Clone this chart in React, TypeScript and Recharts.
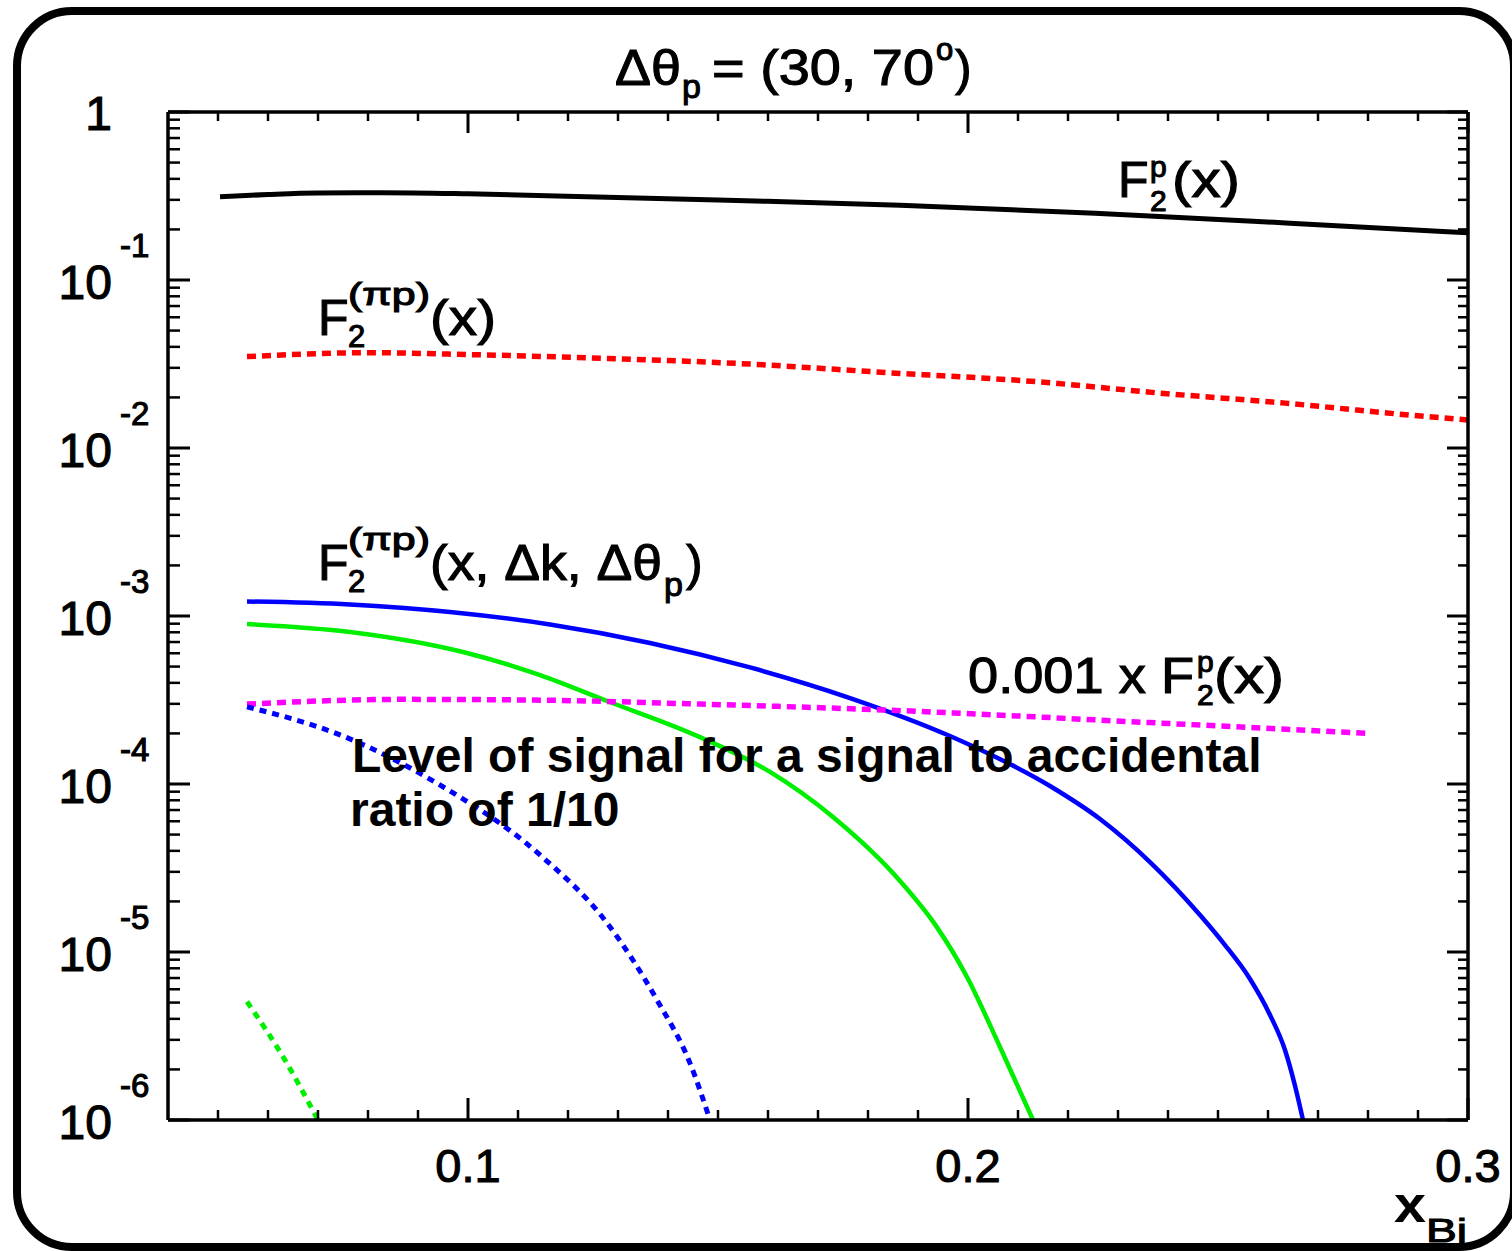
import { LineChart, Line, XAxis, YAxis } from 'recharts';

// x_Bj values / F2 values
const protonX = [0.0504, 0.06, 0.07, 0.083, 0.1, 0.1258, 0.15, 0.1864, 0.2254, 0.2644, 0.3];
const protonY = [0.313, 0.323, 0.33, 0.331, 0.326, 0.312, 0.299, 0.279, 0.25, 0.218, 0.191];

const pionX = [0.0558, 0.0804, 0.1, 0.1268, 0.1536, 0.1838, 0.2138, 0.2386, 0.2634, 0.2884, 0.3];
const pionY = [0.035, 0.0369, 0.036, 0.0342, 0.0319, 0.0281, 0.0248, 0.0212, 0.0185, 0.0157, 0.0147];

const blueX = [0.0558, 0.0764, 0.0964, 0.1164, 0.1364, 0.1564, 0.1764, 0.1964, 0.2164, 0.2264, 0.2364,
  0.2464, 0.2514, 0.2564, 0.2604, 0.2634, 0.2654, 0.267];
const blueY = [1.22e-3, 1.171e-3, 1.056e-3, 8.9e-4, 6.91e-4, 4.94e-4, 3.25e-4, 1.93e-4, 9.73e-5, 6.19e-5, 3.43e-5,
  1.66e-5, 1.1e-5, 6.91e-6, 4.22e-6, 2.61e-6, 1.6e-6, 1e-6];

const greenX = [0.0558, 0.0764, 0.0998, 0.1144, 0.1278, 0.1464, 0.1604, 0.173, 0.1864, 0.1934, 0.1998, 0.2064, 0.213];
const greenY = [8.96e-4, 8.03e-4, 6.02e-4, 4.45e-4, 3.12e-4, 1.9e-4, 1.18e-4, 6.36e-5, 2.65e-5, 1.46e-5, 7.1e-6, 2.72e-6, 1e-6];

const scaledX = [0.0558, 0.0864, 0.113, 0.1464, 0.183, 0.2364, 0.28];
const scaledY = [2.99e-4, 3.19e-4, 3.16e-4, 2.99e-4, 2.76e-4, 2.32e-4, 2.0e-4];

const blueDashX = [0.0558, 0.0744, 0.0938, 0.1144, 0.1278, 0.1378, 0.1444, 0.1484];
const blueDashY = [2.88e-4, 1.96e-4, 1.01e-4, 3.78e-5, 1.49e-5, 5.18e-6, 2.18e-6, 1e-6];

const greenDashX = [0.0558, 0.063, 0.07];
const greenDashY = [5.06e-6, 2.38e-6, 1e-6];

const xMajor = [0.1, 0.2, 0.3];
const xMinor = [0.05, 0.06, 0.07, 0.08, 0.09, 0.11, 0.12, 0.13, 0.14, 0.15, 0.16, 0.17, 0.18, 0.19,
  0.21, 0.22, 0.23, 0.24, 0.25, 0.26, 0.27, 0.28, 0.29];
const yMajor = [1e-6, 1e-5, 1e-4, 1e-3, 1e-2, 1e-1, 1];
const decades = [1e-6, 1e-5, 1e-4, 1e-3, 1e-2, 1e-1];
const mantissas = [2, 3, 4, 5, 6, 7, 8, 9];
const yMinor = decades.flatMap((d) => mantissas.map((m) => m * d));

const zip = (xs: number[], ys: number[]) => xs.map((x, i) => ({ x, y: ys[i] }));

const FONT = '"Liberation Sans", Arial, Helvetica, sans-serif';
const W = 1512;
const H = 1251;
const THICK = { stroke: '#000', strokeWidth: 1.1 };

function NoTick() {
  return null;
}

function XTick({ x, payload }: any) {
  return (
    <text x={x} y={1182} textAnchor="middle" fontFamily={FONT} fontSize={47} fill="#000" {...THICK}>
      {payload.value}
    </text>
  );
}

function YTick({ y, payload }: any) {
  const exp = Math.round(Math.log10(payload.value));
  if (exp === 0) {
    return (
      <text x={112} y={y + 18} textAnchor="end" fontFamily={FONT} fontSize={48} fill="#000" {...THICK}>1</text>
    );
  }
  return (
    <g fontFamily={FONT} fill="#000" {...THICK}>
      <text x={112} y={y + 19} textAnchor="end" fontSize={48}>10</text>
      <text x={120} y={y - 23} fontSize={33}>{exp}</text>
    </g>
  );
}

type Piece = { x: number; y: number; s: number; t: string; b?: boolean; w?: number };

const annotations: Piece[] = [
  // title
  { x: 615, y: 85, s: 50, t: 'Δθ', w: 66 },
  { x: 682, y: 98, s: 34, t: 'p' },
  { x: 712, y: 85, s: 50, t: '= (30, 70', w: 222 },
  { x: 936, y: 60, s: 31, t: 'o' },
  { x: 955, y: 85, s: 50, t: ')' },
  // F2p(x)
  { x: 1118, y: 197, s: 50, t: 'F' },
  { x: 1150, y: 177, s: 30, t: 'p' },
  { x: 1150, y: 211, s: 30, t: '2' },
  { x: 1172, y: 197, s: 50, t: '(x)', w: 68 },
  // F2(pi p)(x)
  { x: 318, y: 335, s: 50, t: 'F' },
  { x: 348, y: 305, s: 31, t: '(πp)', w: 82 },
  { x: 348, y: 347, s: 31, t: '2' },
  { x: 430, y: 335, s: 50, t: '(x)', w: 66 },
  // F2(pi p)(x, dk, dtheta)
  { x: 318, y: 580, s: 50, t: 'F' },
  { x: 348, y: 550, s: 31, t: '(πp)', w: 82 },
  { x: 348, y: 592, s: 31, t: '2' },
  { x: 430, y: 580, s: 50, t: '(x, Δk, Δθ', w: 232 },
  { x: 664, y: 596, s: 34, t: 'p' },
  { x: 686, y: 580, s: 50, t: ')' },
  // 0.001 x F2p(x)
  { x: 968, y: 693, s: 50, t: '0.001 x F', w: 226 },
  { x: 1197, y: 672, s: 30, t: 'p' },
  { x: 1197, y: 705, s: 30, t: '2' },
  { x: 1214, y: 693, s: 50, t: '(x)', w: 70 },
  // note
  { x: 352, y: 772, s: 48, t: 'Level of signal for a signal to accidental', b: true },
  { x: 350, y: 826, s: 48, t: 'ratio of 1/10', b: true },
  // axis title
  { x: 1394, y: 1222, s: 52, t: 'x', b: true, w: 32 },
  { x: 1426, y: 1242, s: 34, t: 'Bj', w: 41 },
];

export default function App() {
  const tickLine = { stroke: '#000', strokeWidth: 3 };
  const minorLine = { stroke: '#000', strokeWidth: 2.5 };
  const frame = { stroke: '#000', strokeWidth: 3.5 };
  const common = { type: 'number' as const, dataKey: 'x', domain: [0.04, 0.3], allowDataOverflow: true, interval: 0 as const, mirror: true };
  const logCommon = { type: 'number' as const, scale: 'log' as const, domain: [1e-6, 1], allowDataOverflow: true, interval: 0 as const, mirror: true };

  return (
    <div style={{ position: 'absolute', left: 0, top: 0, width: W, height: H, background: '#fff', overflow: 'hidden' }}>
      <LineChart width={W} height={H} margin={{ top: 112, right: 44, bottom: 131, left: 168 }}>
        <XAxis xAxisId="x" {...common} ticks={xMajor} height={1} tickSize={22}
          tickLine={tickLine} axisLine={frame} tick={<XTick />} />
        <XAxis xAxisId="xm" {...common} ticks={xMinor} height={1} tickSize={9}
          tickLine={minorLine} axisLine={false} tick={<NoTick />} />
        <XAxis xAxisId="xt" orientation="top" {...common} ticks={xMajor} height={1} tickSize={21}
          tickLine={tickLine} axisLine={frame} tick={<NoTick />} />
        <XAxis xAxisId="xtm" orientation="top" {...common} ticks={xMinor} height={1} tickSize={8}
          tickLine={minorLine} axisLine={false} tick={<NoTick />} />

        <YAxis yAxisId="y" {...logCommon} ticks={yMajor} width={1} tickSize={22}
          tickLine={tickLine} axisLine={frame} tick={<YTick />} />
        <YAxis yAxisId="ym" {...logCommon} ticks={yMinor} width={1} tickSize={11}
          tickLine={minorLine} axisLine={false} tick={<NoTick />} />
        <YAxis yAxisId="yr" orientation="right" {...logCommon} ticks={yMajor} width={1} tickSize={21}
          tickLine={tickLine} axisLine={frame} tick={<NoTick />} />
        <YAxis yAxisId="yrm" orientation="right" {...logCommon} ticks={yMinor} width={1} tickSize={9}
          tickLine={minorLine} axisLine={false} tick={<NoTick />} />

        <Line xAxisId="x" yAxisId="y" data={zip(protonX, protonY)} dataKey="y" type="monotone"
          stroke="#000" strokeWidth={5} dot={false} isAnimationActive={false} />
        <Line xAxisId="x" yAxisId="y" data={zip(pionX, pionY)} dataKey="y" type="monotone"
          stroke="#ff0000" strokeWidth={5.5} strokeDasharray="9 6" dot={false} isAnimationActive={false} />
        <Line xAxisId="x" yAxisId="y" data={zip(blueX, blueY)} dataKey="y" type="monotone"
          stroke="#0000ff" strokeWidth={4.5} dot={false} isAnimationActive={false} />
        <Line xAxisId="x" yAxisId="y" data={zip(greenX, greenY)} dataKey="y" type="monotone"
          stroke="#00ee00" strokeWidth={4.5} dot={false} isAnimationActive={false} />
        <Line xAxisId="x" yAxisId="y" data={zip(scaledX, scaledY)} dataKey="y" type="monotone"
          stroke="#ff00ff" strokeWidth={5.5} strokeDasharray="9 6" dot={false} isAnimationActive={false} />
        <Line xAxisId="x" yAxisId="y" data={zip(blueDashX, blueDashY)} dataKey="y" type="monotone"
          stroke="#0000ff" strokeWidth={5} strokeDasharray="7 6" dot={false} isAnimationActive={false} />
        <Line xAxisId="x" yAxisId="y" data={zip(greenDashX, greenDashY)} dataKey="y" type="monotone"
          stroke="#00ee00" strokeWidth={5} strokeDasharray="7 6" dot={false} isAnimationActive={false} />
      </LineChart>

      <svg width={W} height={H} style={{ position: 'absolute', left: 0, top: 0, pointerEvents: 'none' }}>
        {annotations.map((p, i) => (
          <text key={i} x={p.x} y={p.y} fontSize={p.s} fontFamily={FONT}
            fontWeight={p.b ? 'bold' : 'normal'} fill="#000"
            stroke={p.b ? undefined : '#000'} strokeWidth={p.b ? undefined : 1.1}
            textLength={p.w} lengthAdjust={p.w ? 'spacingAndGlyphs' : undefined}>{p.t}</text>
        ))}
        <rect x={17} y={11} width={1497} height={1236} rx={55} ry={55} fill="none" stroke="#000" strokeWidth={8} />
      </svg>
    </div>
  );
}
